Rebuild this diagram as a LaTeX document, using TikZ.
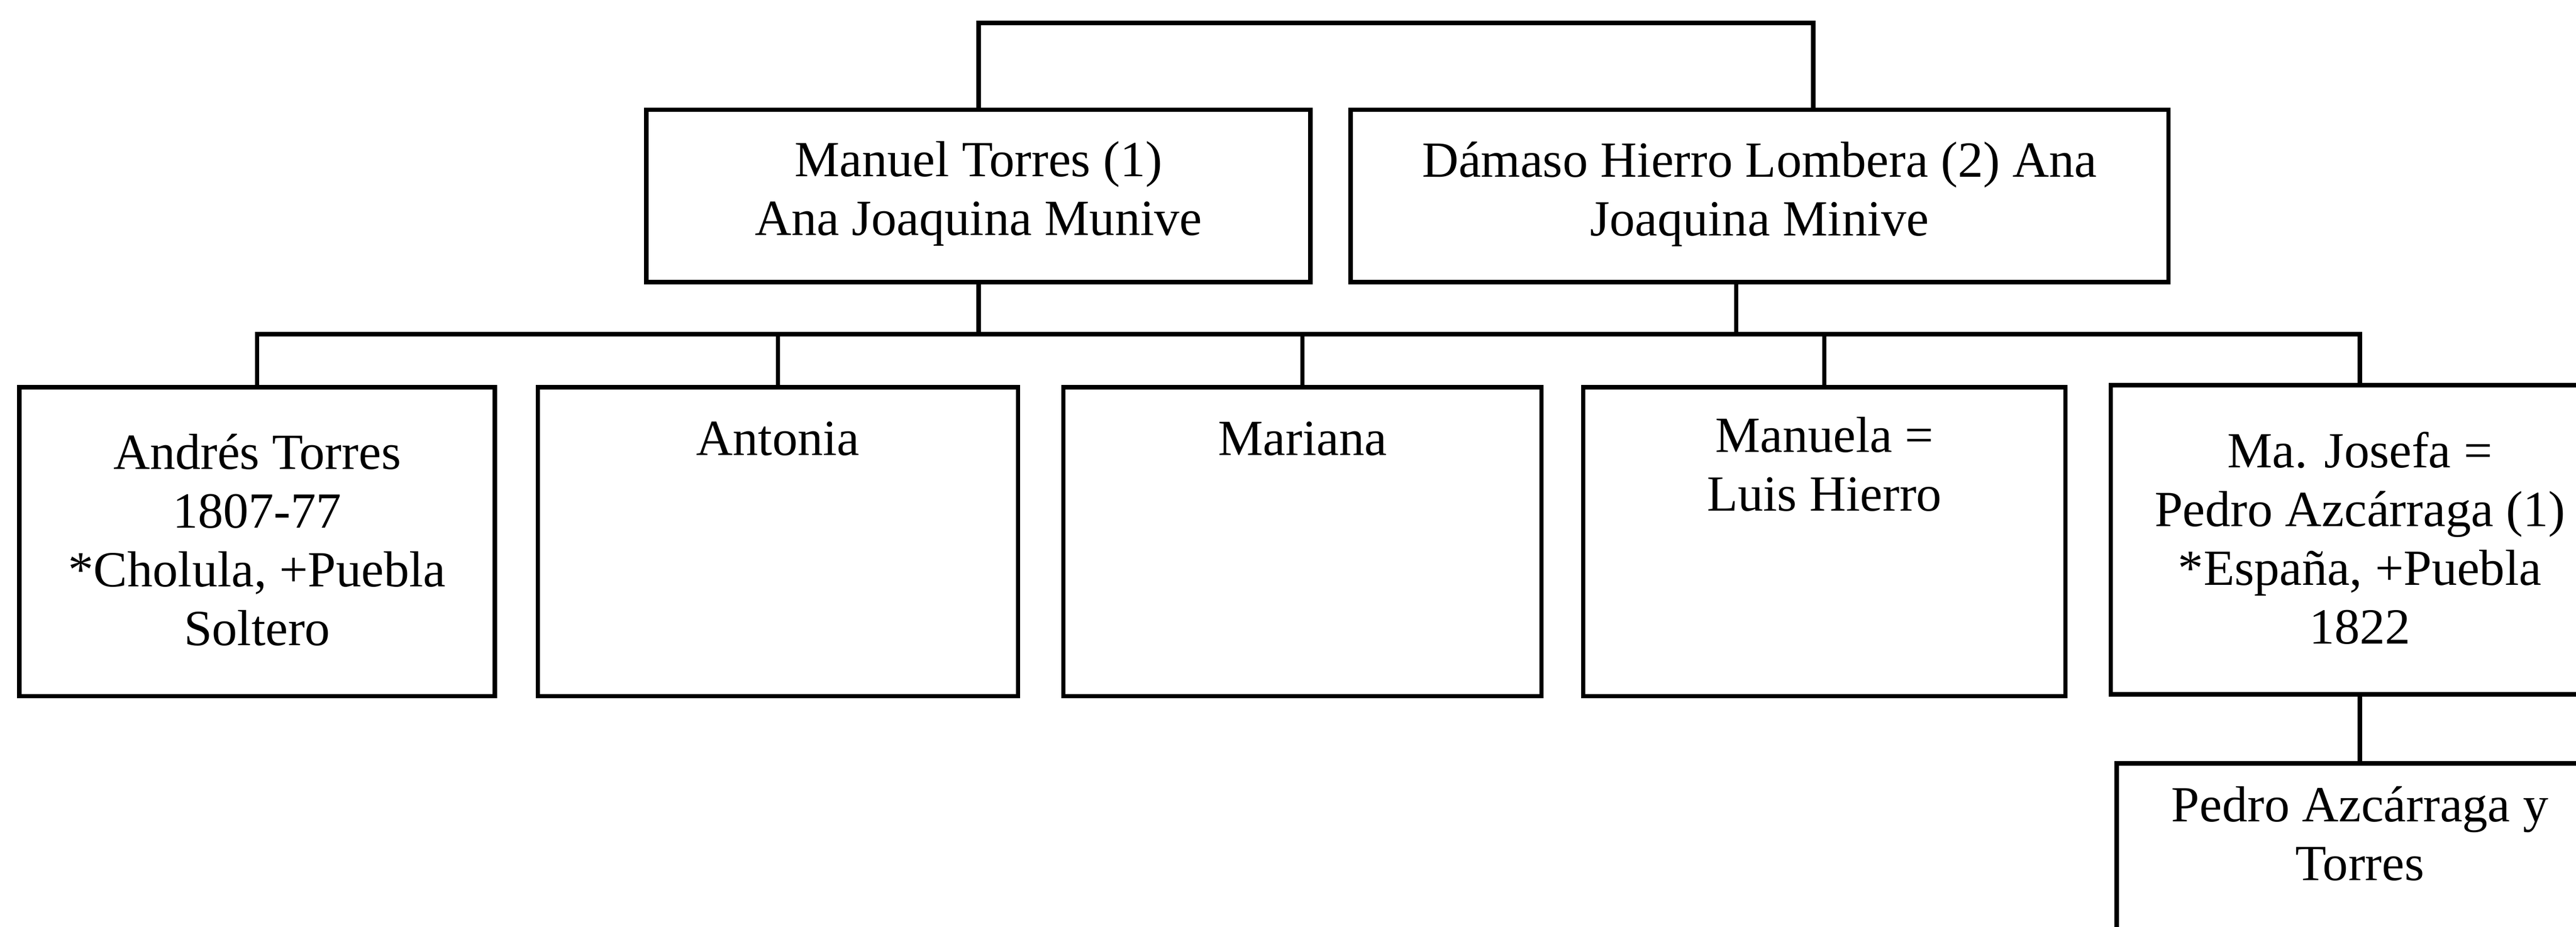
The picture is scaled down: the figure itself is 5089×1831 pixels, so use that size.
\documentclass[tikz,border=0pt]{standalone}
\usepackage{fontspec}
\setmainfont{Liberation Serif}
\usetikzlibrary{positioning}

\tikzset{
  persona/.style={draw, line width=2.5pt, inner sep=0pt, outer sep=0pt},
  hijo/.style={persona, minimum height=6.1cm},
  nombre/.style={align=center, inner sep=0pt, anchor=north,
    font=\fontsize{28.45}{33}\selectfont, execute at begin node=\strut},
  rama/.style={line width=2.5pt},
}

\begin{document}
\begin{tikzpicture}[x=0.01cm, y=-0.01cm]
\useasboundingbox (0,0) rectangle (5089,1831);
\clip (0,0) rectangle (5089,1831);

% padres
\node[persona, minimum width=13.11cm, minimum height=3.4cm] (manuel) at (1933,387) {};
\node[persona, minimum width=16.15cm, minimum height=3.4cm] (damaso) at (3476,387) {};

% hijos
\node[hijo, minimum width=9.39cm] (andres) at (508,1070) {};
\node[hijo, minimum width=9.48cm] (antonia) at (1537,1070) {};
\node[hijo, minimum width=9.44cm] (mariana) at (2573,1070) {};
\node[hijo, minimum width=9.52cm] (manuela) at (3604,1070) {};
\node[hijo, minimum width=9.84cm] (josefa) at (4662,1066) {};

% nieto
\node[persona, minimum width=9.6cm, minimum height=3.72cm] (pedro) at (4662,1694) {};

% textos
\node[nombre, below=0.62cm of manuel.north] (manuelT) {Manuel Torres (1)\\Ana Joaquina Munive};
\node[nombre, below=0.62cm of damaso.north] (damasoT) {Dámaso Hierro Lombera (2) Ana\\Joaquina Minive};
\node[nombre, below=0.92cm of andres.north] (andresT) {Andrés Torres\\1807-77\\*Cholula, +Puebla\\Soltero};
\node[nombre, below=0.52cm of antonia.north] (antoniaT) {Antonia};
\node[nombre, below=0.52cm of mariana.north] (marianaT) {Mariana};
\node[nombre, below=0.58cm of manuela.north] (manuelaT) {Manuela =\\Luis Hierro};
\node[nombre, below=0.92cm of josefa.north] (josefaT) {Ma. Josefa =\\Pedro Azcárraga (1)\\*España, +Puebla\\1822};
\node[nombre, below=0.45cm of pedro.north] (pedroT) {Pedro Azcárraga y\\Torres};

% lineas
\coordinate (arriba) at (0,45);
\coordinate (fila) at (0,660);
\coordinate (damasoArriba) at ([xshift=1.06cm]damaso.north);
\coordinate (damasoAbajo) at ([xshift=-0.46cm]damaso.south);

\draw[rama] (manuel.north) -- (manuel.north |- arriba) -- (damasoArriba |- arriba) -- (damasoArriba);
\draw[rama] (manuel.south) -- (manuel.south |- fila);
\draw[rama] (damasoAbajo) -- (damasoAbajo |- fila);
\draw[rama] (andres.north) -- (andres.north |- fila) -- (josefa.north |- fila) -- (josefa.north);
\foreach \h in {antonia, mariana, manuela}
  \draw[rama] (\h.north) -- (\h.north |- fila);
\draw[rama] (josefa.south) -- (pedro.north);
\end{tikzpicture}
\end{document}
